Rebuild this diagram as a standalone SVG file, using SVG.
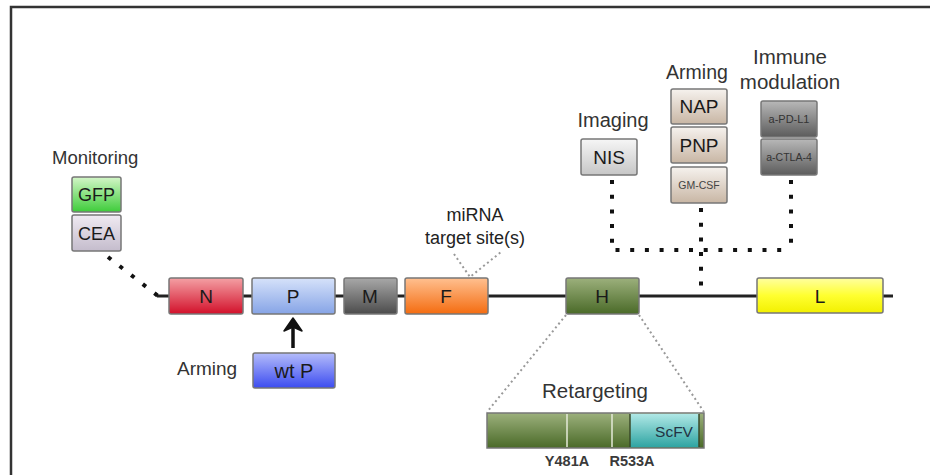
<svg xmlns="http://www.w3.org/2000/svg" width="930" height="475" viewBox="0 0 930 475">
  <defs>
    <linearGradient id="gRed" x1="0" y1="0" x2="0" y2="1"><stop offset="0" stop-color="#f4a0a4"/><stop offset="1" stop-color="#d2102a"/></linearGradient>
    <linearGradient id="gLtBlue" x1="0" y1="0" x2="0" y2="1"><stop offset="0" stop-color="#d6e2fa"/><stop offset="1" stop-color="#86a4e6"/></linearGradient>
    <linearGradient id="gGrey" x1="0" y1="0" x2="0" y2="1"><stop offset="0" stop-color="#a8a8a8"/><stop offset="1" stop-color="#4c4c4c"/></linearGradient>
    <linearGradient id="gOrange" x1="0" y1="0" x2="0" y2="1"><stop offset="0" stop-color="#ffc090"/><stop offset="1" stop-color="#f46c10"/></linearGradient>
    <linearGradient id="gGreen" x1="0" y1="0" x2="0" y2="1"><stop offset="0" stop-color="#9cb07c"/><stop offset="1" stop-color="#4a6a28"/></linearGradient>
    <linearGradient id="gYellow" x1="0" y1="0" x2="0" y2="1"><stop offset="0" stop-color="#ffffa0"/><stop offset="0.5" stop-color="#ffff30"/><stop offset="1" stop-color="#f2f000"/></linearGradient>
    <linearGradient id="gBlue" x1="0" y1="0" x2="0" y2="1"><stop offset="0" stop-color="#b4bcfa"/><stop offset="1" stop-color="#3c4cf0"/></linearGradient>
    <linearGradient id="gLime" x1="0" y1="0" x2="0" y2="1"><stop offset="0" stop-color="#d4f6c8"/><stop offset="1" stop-color="#3ecc3a"/></linearGradient>
    <linearGradient id="gLavender" x1="0" y1="0" x2="0" y2="1"><stop offset="0" stop-color="#f0eaf2"/><stop offset="1" stop-color="#c4bccc"/></linearGradient>
    <linearGradient id="gSilver" x1="0" y1="0" x2="0" y2="1"><stop offset="0" stop-color="#f6f6f6"/><stop offset="1" stop-color="#c6c6c6"/></linearGradient>
    <linearGradient id="gBeige" x1="0" y1="0" x2="0" y2="1"><stop offset="0" stop-color="#f6f2ee"/><stop offset="1" stop-color="#c8b6a4"/></linearGradient>
    <linearGradient id="gDark" x1="0" y1="0" x2="0" y2="1"><stop offset="0" stop-color="#b8b8b8"/><stop offset="1" stop-color="#5c5c5c"/></linearGradient>
    <linearGradient id="gTeal" x1="0" y1="0" x2="0" y2="1"><stop offset="0" stop-color="#b0e8e6"/><stop offset="1" stop-color="#2ea4a2"/></linearGradient>
  </defs>
  <style>
    text { font-family: "Liberation Sans", Arial, sans-serif; fill: #222; }
    .lbl { font-size: 19px; fill: #333; }
    .box { stroke: #777; stroke-width: 1.5; }
    .bx { font-size: 19px; text-anchor: middle; fill: #1a1a1a; }
    .dots { fill: none; stroke: #111; stroke-width: 4; stroke-dasharray: 4 10.7; }
    .fine { fill: none; stroke: #999; stroke-width: 2; stroke-dasharray: 2 3; }
  </style>

  <rect width="930" height="475" fill="#ffffff"/>
  <!-- frame -->
  <path d="M11,480 L11,7 L935,7" fill="none" stroke="#333" stroke-width="2.5"/>

  <!-- connectors -->
  <g id="connectors">
    <line x1="157" y1="296" x2="893" y2="296" stroke="#222" stroke-width="3"/>
    <path class="dots" d="M108,257 L158,296"/>
    <path class="dots" d="M612,180 L612,250 L791,250 M791,180 L791,250 M701,208 L701,292"/>
    <path class="fine" d="M454,254 L470,277 L501,252"/>
    <path class="fine" d="M566,315 L487,412 M639,315 L704,412"/>
    <line x1="293" y1="348" x2="293" y2="326" stroke="#111" stroke-width="3.5"/>
    <path d="M293,318 L302,331 L293,327 L284,331 Z" fill="#111" stroke="#111" stroke-width="1.5" stroke-linejoin="round"/>
  </g>

  <!-- genome segments -->
  <g id="gene-N"><rect class="box" x="169" y="278" width="74" height="36" rx="2" fill="url(#gRed)"/><text class="bx" x="206" y="303">N</text></g>
  <g id="gene-P"><rect class="box" x="252" y="278" width="83" height="36" rx="2" fill="url(#gLtBlue)"/><text class="bx" x="293" y="303">P</text></g>
  <g id="gene-M"><rect class="box" x="344" y="278" width="53" height="36" rx="2" fill="url(#gGrey)"/><text class="bx" x="370" y="303">M</text></g>
  <g id="gene-F"><rect class="box" x="405" y="278" width="83" height="36" rx="2" fill="url(#gOrange)"/><text class="bx" x="446" y="303">F</text></g>
  <g id="gene-H"><rect class="box" x="566" y="278" width="73" height="36" rx="2" fill="url(#gGreen)"/><text class="bx" x="602" y="303">H</text></g>
  <g id="gene-L"><rect class="box" x="757" y="278" width="126" height="35" rx="2" fill="url(#gYellow)"/><text class="bx" x="820" y="303">L</text></g>

  <!-- monitoring -->
  <g id="monitoring">
    <text class="lbl" x="52" y="164" style="font-size:18.5px">Monitoring</text>
    <rect class="box" x="72" y="177" width="49" height="35" rx="2" fill="url(#gLime)"/><text class="bx" x="96.5" y="201" style="font-size:18px">GFP</text>
    <rect class="box" x="72" y="215" width="49" height="36" rx="2" fill="url(#gLavender)"/><text class="bx" x="96.5" y="240" style="font-size:18px">CEA</text>
  </g>

  <!-- arming wt P -->
  <g id="arming-wtP">
    <text class="lbl" x="177" y="375">Arming</text>
    <rect class="box" x="253" y="353" width="82" height="35" rx="2" fill="url(#gBlue)"/><text class="bx" x="294" y="378" style="font-size:20px">wt P</text>
  </g>

  <!-- miRNA -->
  <g id="mirna">
    <text x="475" y="221" text-anchor="middle" style="font-size:18px">miRNA</text>
    <text x="475" y="244" text-anchor="middle" style="font-size:18px">target site(s)</text>
  </g>

  <!-- imaging -->
  <g id="imaging">
    <text class="lbl" x="613" y="127" text-anchor="middle" style="font-size:20px">Imaging</text>
    <rect class="box" x="581" y="139" width="56" height="36" rx="2" fill="url(#gSilver)"/><text class="bx" x="609" y="164">NIS</text>
  </g>

  <!-- arming transgenes -->
  <g id="arming-transgenes">
    <text class="lbl" x="697" y="79" text-anchor="middle" style="font-size:19.5px">Arming</text>
    <rect class="box" x="671" y="89" width="56" height="35" rx="2" fill="url(#gBeige)"/><text class="bx" x="699" y="113">NAP</text>
    <rect class="box" x="671" y="127" width="56" height="36" rx="2" fill="url(#gBeige)"/><text class="bx" x="699" y="152">PNP</text>
    <rect class="box" x="671" y="167" width="56" height="36" rx="2" fill="url(#gBeige)"/><text class="bx" x="699" y="189" style="font-size:10.5px;fill:#444">GM-CSF</text>
  </g>

  <!-- immune modulation -->
  <g id="immune-modulation">
    <text class="lbl" x="790" y="64" text-anchor="middle" style="font-size:20.5px">Immune</text>
    <text class="lbl" x="790" y="89" text-anchor="middle" style="font-size:20.5px">modulation</text>
    <rect class="box" x="761" y="101" width="56" height="36" rx="2" fill="url(#gDark)"/><text class="bx" x="789" y="123" style="font-size:11px;fill:#333">a-PD-L1</text>
    <rect class="box" x="761" y="139" width="56" height="36" rx="2" fill="url(#gDark)"/><text class="bx" x="789" y="161" style="font-size:10.5px;fill:#333">a-CTLA-4</text>
  </g>

  <!-- retargeting -->
  <g id="retargeting">
    <text class="lbl" x="595" y="398" text-anchor="middle" style="font-size:20.5px">Retargeting</text>
    <rect class="box" x="487" y="413" width="217" height="35" fill="url(#gGreen)"/>
    <rect x="630" y="413.8" width="69" height="33.4" fill="url(#gTeal)"/>
    <line x1="567" y1="414" x2="567" y2="447" stroke="#e4ead8" stroke-width="1.5"/>
    <line x1="612" y1="414" x2="612" y2="447" stroke="#e4ead8" stroke-width="1.5"/>
    <line x1="630" y1="414" x2="630" y2="447" stroke="#3a4a2a" stroke-width="1.5"/>
    <line x1="699" y1="414" x2="699" y2="447" stroke="#3a4a2a" stroke-width="1.5"/>
    <text x="674" y="437" text-anchor="middle" style="font-size:15.5px;fill:#234">ScFV</text>
    <text x="567" y="466" text-anchor="middle" style="font-size:14.5px;font-weight:bold;fill:#3a3a3a">Y481A</text>
    <text x="632" y="466" text-anchor="middle" style="font-size:14.5px;font-weight:bold;fill:#3a3a3a">R533A</text>
  </g>
</svg>
